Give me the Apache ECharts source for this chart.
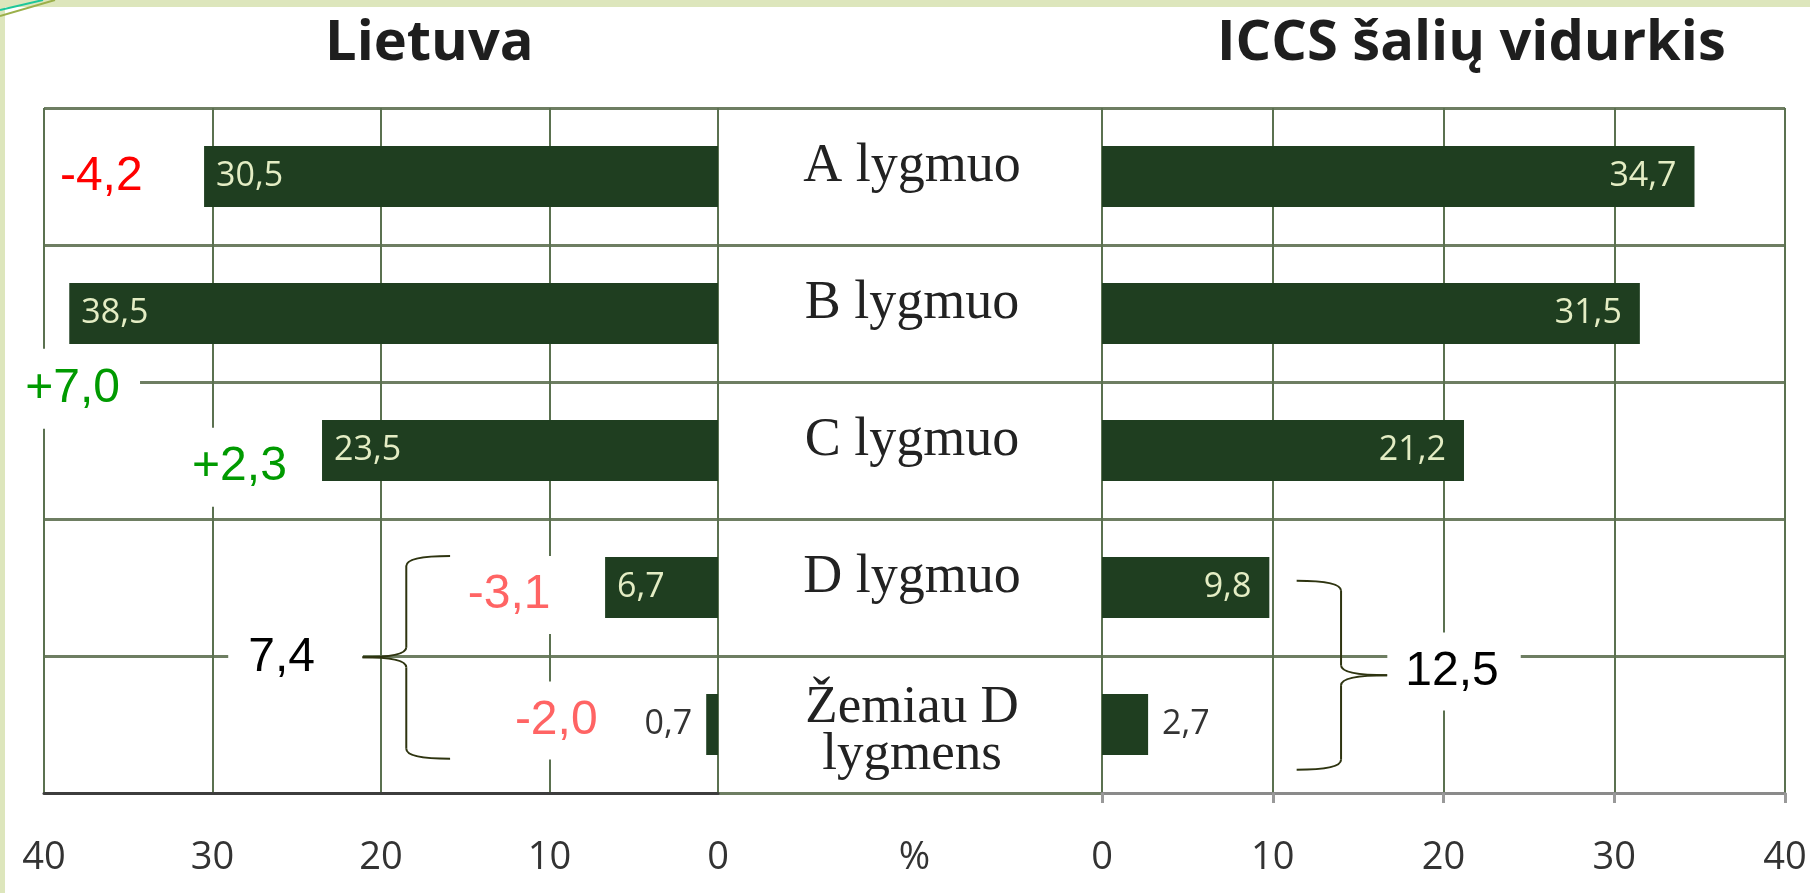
<!DOCTYPE html>
<html>
<head>
<meta charset="utf-8">
<title>Lietuva / ICCS šalių vidurkis</title>
<script src="https://cdn.jsdelivr.net/npm/echarts@6/dist/echarts.min.js"></script>
<style>
  html, body { margin: 0; padding: 0; background: #fff; }
  #chart { width: 1810px; height: 893px; }
</style>
</head>
<body>
<div id="chart"></div>
<script>
var categories = ['A lygmuo', 'B lygmuo', 'C lygmuo', 'D lygmuo', 'Žemiau D\nlygmens'];
var lietuva = [30.5, 38.5, 23.5, 6.7, 0.7];
var iccs = [34.7, 31.5, 21.2, 9.8, 2.7];
var axisMax = 40;
var axisStep = 10;

var fontSans = '"Open Sans", "DejaVu Sans", sans-serif';
var fontSerif = '"Liberation Serif", "DejaVu Serif", serif';
var fontArial = '"Liberation Sans", Arial, sans-serif';

var barColor = '#1f3e20';
var inLabel = '#e4edc4';
var gridLine = '#5b7150';
var rowLine = '#6e7e62';

function fmt(v) { return v.toFixed(1).replace('.', ','); }
function signed(v) { return (v > 0 ? '+' : '') + fmt(v); }

// small bars get their label outside, in dark text
function barData(values, outsidePos) {
  return values.map(function (v) {
    if (v >= 3) return v;
    return { value: v, label: { position: outsidePos, color: '#333', distance: 14 } };
  });
}

function valueAxis(grid, inverse, lineColor, showTick) {
  return {
    gridIndex: grid, type: 'value', min: 0, max: axisMax, interval: axisStep, inverse: inverse,
    axisLine: { show: true, lineStyle: { color: lineColor, width: 3 } },
    axisTick: { show: showTick, length: 10, lineStyle: { color: '#999', width: 3 } },
    axisLabel: { margin: 46, fontSize: 38, color: '#333', fontFamily: fontSans },
    splitLine: { show: true, lineStyle: { color: gridLine, width: 2 } },
    z: 3
  };
}

var titleStyle = { fontFamily: fontSans, fontWeight: 'bold', fontSize: 56, color: '#1e1e1e' };
var catRich = {
  a: { fontSize: 54, lineHeight: 58, fontFamily: fontSerif, color: '#222', align: 'center' },
  gapA: { fontSize: 10, lineHeight: 20, align: 'center' },
  s: { fontSize: 53, lineHeight: 47, fontFamily: fontSerif, color: '#222', align: 'center' },
  gapS: { fontSize: 10, lineHeight: 14, align: 'center' }
};

var chart = echarts.init(document.getElementById('chart'));

var option = {
  backgroundColor: '#fff',
  animation: false,
  title: [
    { text: 'Lietuva', left: 320, top: 11, textStyle: titleStyle },
    { text: 'ICCS šalių vidurkis', left: 1212, top: 11, textStyle: titleStyle }
  ],
  grid: [
    { left: 44, right: 1092, top: 108, bottom: 100, outerBoundsMode: 'none' },
    { left: 1102, right: 25, top: 108, bottom: 100, outerBoundsMode: 'none' },
    { left: 44, right: 25, top: 108, bottom: 100, outerBoundsMode: 'none' }
  ],
  xAxis: [
    valueAxis(0, true, '#3d3d3d', false),
    valueAxis(1, false, '#8a8a8a', true),
    {
      gridIndex: 2, type: 'value', min: 0, max: 1,
      axisLine: { lineStyle: { color: '#3d3d3d', width: 3 } },
      axisTick: { show: false }, axisLabel: { show: false }, splitLine: { show: false },
      name: '%', nameLocation: 'middle', nameGap: 46,
      nameTextStyle: { fontSize: 38, color: '#333', fontFamily: fontSans },
      z: 1
    }
  ],
  yAxis: [
    {
      gridIndex: 0, type: 'category', data: categories, inverse: true, position: 'right',
      axisLine: { show: false }, axisTick: { show: false }, splitLine: { show: false },
      axisLabel: {
        margin: 194, align: 'center',
        formatter: function (v) {
          var lines = v.split('\n');
          if (lines.length > 1) {
            return '{gapS| }\n' + lines.map(function (l) { return '{s|' + l + '}'; }).join('\n');
          }
          return '{a|' + v + '}\n{gapA| }';
        },
        rich: catRich
      }
    },
    { gridIndex: 1, type: 'category', data: categories, inverse: true, show: false },
    {
      gridIndex: 2, type: 'category', data: categories, inverse: true,
      axisLine: { show: false }, axisTick: { show: false }, axisLabel: { show: false },
      splitLine: { show: true, lineStyle: { color: rowLine, width: 3 } }
    }
  ],
  series: [
    {
      name: 'Lietuva', type: 'bar', xAxisIndex: 0, yAxisIndex: 0,
      data: barData(lietuva, 'left'), barWidth: 61, itemStyle: { color: barColor },
      label: {
        show: true, position: 'insideLeft', distance: 12, color: inLabel,
        fontSize: 34, fontFamily: fontSans,
        formatter: function (p) { return fmt(p.value); }
      },
      z: 4
    },
    {
      name: 'ICCS šalių vidurkis', type: 'bar', xAxisIndex: 1, yAxisIndex: 1,
      data: barData(iccs, 'right'), barWidth: 61, itemStyle: { color: barColor },
      label: {
        show: true, position: 'insideRight', distance: 18, color: inLabel,
        fontSize: 34, fontFamily: fontSans,
        formatter: function (p) { return fmt(p.value); }
      },
      z: 4
    }
  ]
};

chart.setOption(option);

// ---- annotations: differences, D-group sums and braces ----
function toPx(side, v, c) {
  var f = { xAxisIndex: side, yAxisIndex: side };
  var a = chart.convertToPixel(f, [v, 0]);
  var b = chart.convertToPixel(f, [v, 1]);
  return [a[0], a[1] + c * (b[1] - a[1])];
}

var diffs = lietuva.map(function (v, i) { return signed(v - iccs[i]); });
var sums = [fmt(lietuva[3] + lietuva[4]), fmt(iccs[3] + iccs[4])];

var diffColors = ['#ff0000', '#009a00', '#009a00', '#ff6464', '#ff6464'];
var diffLayout = [
  { side: 0, v: 36.6, c: 0.0, pad: [12, 10, 12, 10] },
  { side: 0, v: 38.3, c: 1.55, pad: [16, 20, 16, 8] },
  { side: 0, v: 28.4, c: 2.14, pad: [18, 24, 13, 12] },
  { side: 0, v: 12.4, c: 3.07, pad: [17, 18, 13, 17] },
  { side: 0, v: 9.6, c: 4.0, pad: [19, 5, 11, 12] }
];
var sumLayout = [
  { side: 0, v: 25.9, c: 3.51, pad: [14, 48, 14, 20] },
  { side: 1, v: 20.5, c: 3.62, pad: [16, 22, 14, 18] }
];
var braceLayout = [
  { side: 0, tip: 15.9, spine: 18.5, mid: 21.1, c0: 2.77, cm: 3.51, c1: 4.25 },
  { side: 1, tip: 11.4, spine: 14.0, mid: 16.7, c0: 2.95, cm: 3.64, c1: 4.33 }
];

function noteText(text, color, L) {
  var p = toPx(L.side, L.v, L.c);
  var pad = L.pad;
  return {
    type: 'text', z: 50,
    x: p[0] + (pad[1] - pad[3]) / 2,
    y: p[1] + (pad[2] - pad[0]) / 2,
    style: {
      text: text, fill: color, fontSize: 48, fontFamily: fontArial,
      align: 'center', verticalAlign: 'middle',
      backgroundColor: '#fff', padding: pad
    }
  };
}

function braceStyle() { return { stroke: '#2e3410', lineWidth: 2, fill: 'none' }; }

function braceEls(b) {
  var t = toPx(b.side, b.tip, b.c0);
  var bt = toPx(b.side, b.tip, b.c1);
  var m = toPx(b.side, b.mid, b.cm);
  var xs = toPx(b.side, b.spine, b.cm)[0];
  var r = 10;
  return [
    { type: 'bezierCurve', z: 51, style: braceStyle(),
      shape: { x1: t[0], y1: t[1], cpx1: xs, cpy1: t[1], x2: xs, y2: t[1] + r } },
    { type: 'line', z: 51, style: braceStyle(),
      shape: { x1: xs, y1: t[1] + r, x2: xs, y2: m[1] - r } },
    { type: 'bezierCurve', z: 51, style: braceStyle(),
      shape: { x1: xs, y1: m[1] - r, cpx1: xs, cpy1: m[1], x2: m[0], y2: m[1] } },
    { type: 'bezierCurve', z: 51, style: braceStyle(),
      shape: { x1: m[0], y1: m[1], cpx1: xs, cpy1: m[1], x2: xs, y2: m[1] + r } },
    { type: 'line', z: 51, style: braceStyle(),
      shape: { x1: xs, y1: m[1] + r, x2: xs, y2: bt[1] - r } },
    { type: 'bezierCurve', z: 51, style: braceStyle(),
      shape: { x1: xs, y1: bt[1] - r, cpx1: xs, cpy1: bt[1], x2: bt[0], y2: bt[1] } }
  ];
}

var elements = [
  // slide frame
  { type: 'rect', z: 60, shape: { x: 0, y: 0, width: 1810, height: 7 }, style: { fill: '#dde6bc' } },
  { type: 'rect', z: 60, shape: { x: 0, y: 0, width: 5, height: 893 }, style: { fill: '#dde6bc' } },
  { type: 'line', z: 61, shape: { x1: 0, y1: 16, x2: 55, y2: 0 }, style: { stroke: '#9bb04a', lineWidth: 2 } },
  { type: 'line', z: 61, shape: { x1: 0, y1: 10, x2: 43, y2: 0 }, style: { stroke: '#1ec79a', lineWidth: 2 } }
];
diffs.forEach(function (d, i) { elements.push(noteText(d, diffColors[i], diffLayout[i])); });
sums.forEach(function (s, i) { elements.push(noteText(s, '#000', sumLayout[i])); });
braceLayout.forEach(function (b) { elements = elements.concat(braceEls(b)); });

chart.setOption({ graphic: elements });
</script>
</body>
</html>
